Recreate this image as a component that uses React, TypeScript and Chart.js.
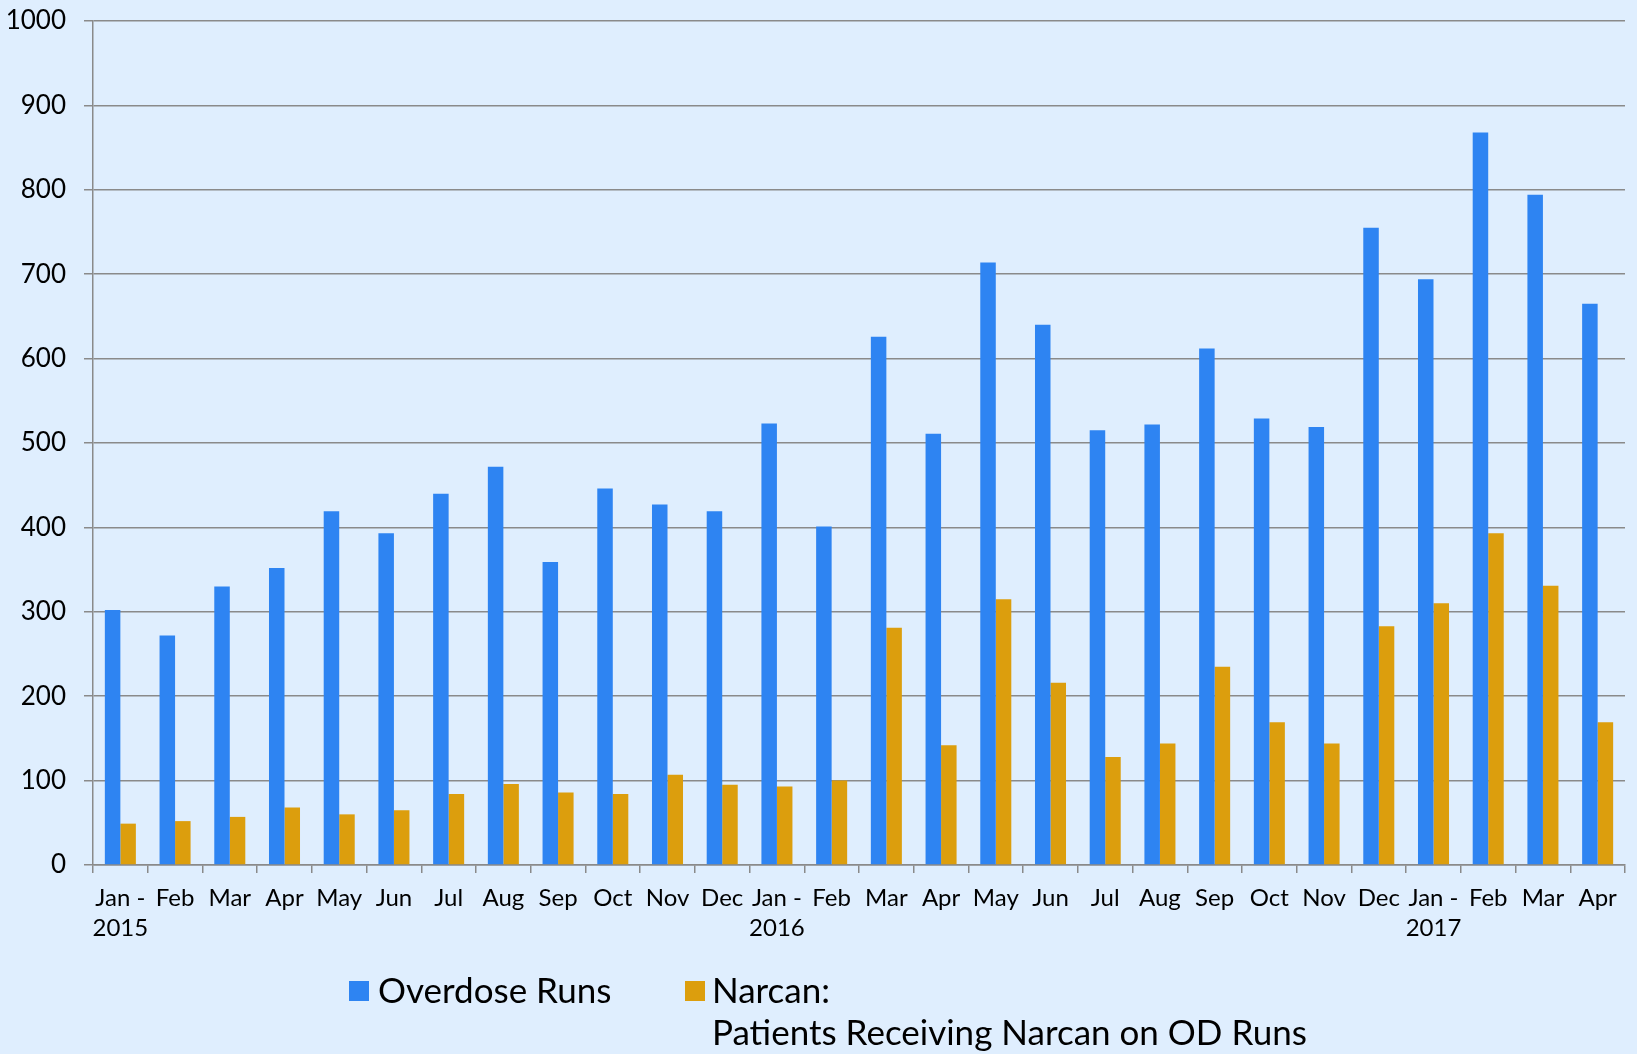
import React, { useEffect, useRef } from "react";
import { Chart, registerables } from "chart.js";

Chart.register(...registerables);

const categories: (string | string[])[] = [
  ["Jan -", "2015"], "Feb", "Mar", "Apr", "May", "Jun", "Jul", "Aug", "Sep", "Oct", "Nov", "Dec",
  ["Jan -", "2016"], "Feb", "Mar", "Apr", "May", "Jun", "Jul", "Aug", "Sep", "Oct", "Nov", "Dec",
  ["Jan -", "2017"], "Feb", "Mar", "Apr",
];

const overdoseRuns = [
  302, 272, 330, 352, 419, 393, 440, 472, 359, 446, 427, 419,
  523, 401, 626, 511, 714, 640, 515, 522, 612, 529, 519, 755,
  694, 868, 794, 665,
];

const narcanPatients = [
  49, 52, 57, 68, 60, 65, 84, 96, 86, 84, 107, 95,
  93, 100, 281, 142, 315, 216, 128, 144, 235, 169, 144, 283,
  310, 393, 331, 169,
];

const seriesNames = ["Overdose Runs", "Narcan:", "Patients Receiving Narcan on OD Runs"];
const yMin = 0;
const yMax = 1000;
const yStep = 100;

const BG = "#dfeefe";
const BLUE = "#2e84f2";
const ORANGE = "#dc9e0d";
const GRID = "#8a8a8a";
const FONT = "Lato, 'Open Sans', sans-serif";

export default function App() {
  const canvasRef = useRef<HTMLCanvasElement | null>(null);

  useEffect(() => {
    document.body.style.margin = "0";
    const ctx = canvasRef.current;
    if (!ctx) return;
    const chart = new Chart(ctx, {
      type: "bar",
      data: {
        labels: categories,
        datasets: [
          {
            label: seriesNames[0],
            data: overdoseRuns,
            backgroundColor: BLUE,
            categoryPercentage: 0.567,
            barPercentage: 1,
          },
          {
            label: seriesNames[1] + " " + seriesNames[2],
            data: narcanPatients,
            backgroundColor: ORANGE,
            categoryPercentage: 0.567,
            barPercentage: 1,
          },
        ],
      },
      options: {
        animation: false,
        responsive: true,
        maintainAspectRatio: false,
        layout: { padding: { left: 0, top: 21, right: 12, bottom: 89 } },
        plugins: {
          legend: { display: false },
          tooltip: { enabled: false },
        },
        scales: {
          x: {
            offset: true,
            grid: {
              offset: true,
              drawOnChartArea: false,
              drawTicks: true,
              tickLength: 8,
              color: GRID,
              lineWidth: 1.5,
            },
            border: { display: true, color: GRID, width: 1.5 },
            ticks: {
              autoSkip: false,
              maxRotation: 0,
              minRotation: 0,
              padding: 10,
              color: "#000",
              font: { family: FONT, size: 24, lineHeight: 1.25 },
            },
            afterFit: (s: any) => {
              s.height = 100;
            },
          },
          y: {
            min: yMin,
            max: yMax,
            ticks: {
              stepSize: yStep,
              padding: 18,
              color: "#000",
              font: { family: FONT, size: 26 },
              callback: (v: any) => String(v),
            },
            grid: {
              color: GRID,
              lineWidth: 1.5,
              tickLength: 9,
              drawTicks: true,
            },
            border: { display: true, color: GRID, width: 1.5 },
            afterFit: (s: any) => {
              s.width = 93;
              s.paddingTop = 0;
              s.paddingBottom = 0;
            },
          },
        },
      },
    });
    return () => chart.destroy();
  }, []);

  const textStyle: React.CSSProperties = {
    position: "absolute",
    fontFamily: FONT,
    fontSize: 35,
    lineHeight: "42px",
    color: "#000",
    whiteSpace: "nowrap",
  };

  return (
    <div
      style={{
        position: "fixed",
        left: 0,
        top: 0,
        width: 1637,
        height: 1054,
        background: BG,
        overflow: "hidden",
      }}
    >
      <div style={{ position: "absolute", left: 0, top: 0, width: 1637, height: 1054 }}>
        <canvas ref={canvasRef} />
      </div>
      <div style={{ position: "absolute", left: 349, top: 981, width: 20, height: 20, background: BLUE }} />
      <div style={{ ...textStyle, left: 378, top: 968 }}>{seriesNames[0]}</div>
      <div style={{ position: "absolute", left: 685, top: 981, width: 20, height: 20, background: ORANGE }} />
      <div style={{ ...textStyle, left: 712, top: 968 }}>
        {seriesNames[1]}
        <br />
        {seriesNames[2]}
      </div>
    </div>
  );
}
